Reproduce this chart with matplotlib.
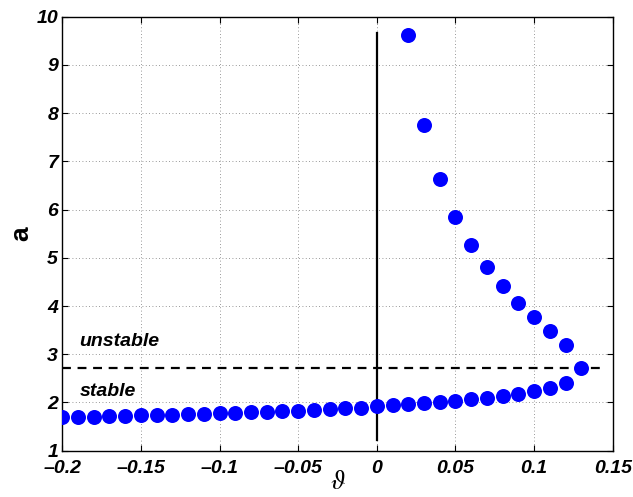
import numpy as np
import matplotlib
matplotlib.use("Agg")
import matplotlib.pyplot as plt

# lower (stable) branch
theta_low = [-0.20, -0.19, -0.18, -0.17, -0.16, -0.15, -0.14, -0.13, -0.12, -0.11,
             -0.10, -0.09, -0.08, -0.07, -0.06, -0.05, -0.04, -0.03, -0.02, -0.01,
             0.00, 0.01, 0.02, 0.03, 0.04, 0.05, 0.06, 0.07, 0.08, 0.09,
             0.10, 0.11, 0.12]
a_low = [1.69, 1.70, 1.705, 1.71, 1.72, 1.73, 1.74, 1.75, 1.76, 1.77,
         1.78, 1.79, 1.80, 1.81, 1.82, 1.83, 1.845, 1.86, 1.875, 1.895,
         1.92, 1.95, 1.97, 1.99, 2.01, 2.04, 2.07, 2.10, 2.13, 2.18,
         2.23, 2.31, 2.41]

# upper (unstable) branch
theta_up = [0.02, 0.03, 0.04, 0.05, 0.06, 0.07, 0.08, 0.09, 0.10, 0.11, 0.12, 0.13]
a_up = [9.62, 7.76, 6.64, 5.85, 5.27, 4.80, 4.42, 4.07, 3.78, 3.48, 3.19, 2.71]

a_crit = 2.72
x_ticks = [-0.2, -0.15, -0.1, -0.05, 0, 0.05, 0.1, 0.15]
x_ticklabels = ['\u20130.2', '\u20130.15', '\u20130.1', '\u20130.05', '0', '0.05', '0.1', '0.15']
y_ticks = [1, 2, 3, 4, 5, 6, 7, 8, 9, 10]

plt.rcParams['font.family'] = ['Liberation Sans', 'DejaVu Sans']
plt.rcParams['mathtext.fontset'] = 'stix'

fig = plt.figure(figsize=(6.33, 4.97), dpi=100)
ax = fig.add_axes([0.0984, 0.0932, 0.8696, 0.8732])

# threshold line and vertical axis line
ax.plot([-0.2, 0.146], [a_crit, a_crit], 'k--', linewidth=1.6, dashes=(4, 3), zorder=2)
ax.plot([0, 0], [1.22, 9.66], 'k-', linewidth=1.6, zorder=2)

ax.plot(theta_low, a_low, 'o', color='#0000ff', markersize=10.8, markeredgewidth=0, zorder=3)
ax.plot(theta_up, a_up, 'o', color='#0000ff', markersize=10.8, markeredgewidth=0, zorder=3)

ax.text(-0.189, 3.26, 'unstable', fontsize=14, fontweight='bold', style='italic', va='center')
ax.text(-0.189, 2.22, 'stable', fontsize=14, fontweight='bold', style='italic', va='center')

ax.set_xlim(-0.2, 0.15)
ax.set_ylim(1, 10)
ax.set_xticks(x_ticks)
ax.set_xticklabels(x_ticklabels)
ax.set_yticks(y_ticks)
for lab in ax.get_xticklabels() + ax.get_yticklabels():
    lab.set_fontweight('bold')
    lab.set_fontstyle('italic')
    lab.set_fontsize(14)

ax.tick_params(direction='in', top=True, right=True, length=4, width=0.8)
ax.tick_params(axis='x', pad=7)
ax.tick_params(axis='y', pad=3)
ax.grid(True, color='#777777', linestyle=(0, (1, 3)), linewidth=0.6)
for s in ax.spines.values():
    s.set_linewidth(1.0)

ax.set_xlabel(r'$\vartheta$', fontsize=19, labelpad=-5)
ax.set_ylabel('a', fontsize=19, fontweight='bold', labelpad=2)

fig.savefig('out.png', dpi=100)
